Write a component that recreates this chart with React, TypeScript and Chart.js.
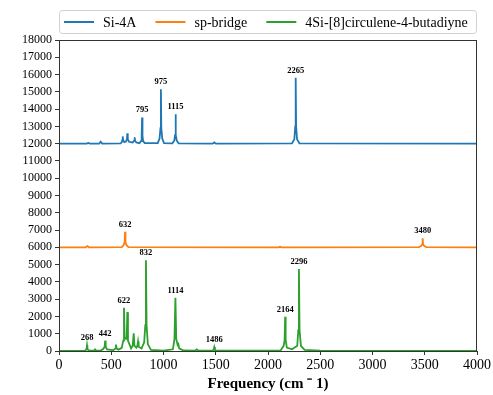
import React, { useEffect, useRef } from 'react';
import { Chart, registerables } from 'chart.js';

Chart.register(...registerables);

// ---- data ----
const seriesNames = ['Si-4A', 'sp-bridge', '4Si-[8]circulene-4-butadiyne'];
const seriesColors = ['#1f77b4', '#ff7f0e', '#2ca02c'];
const seriesOffsets = [12000, 6000, 0];

const freqSi = [0, 265, 280, 295, 385, 399, 413, 590, 600, 606, 610, 614, 625, 640, 650, 654, 658, 670, 705, 720, 724, 728, 740, 770, 785, 791, 795, 799, 805, 820, 945, 962, 971, 975, 979, 988, 1005, 1085, 1103, 1111, 1115, 1119, 1127, 1145, 1470, 1486, 1502, 2230, 2252, 2261, 2265, 2269, 2278, 2300, 4000];
const intSi = [0, 0, 40, 0, 0, 110, 0, 20, 80, 200, 420, 200, 90, 120, 260, 600, 260, 110, 70, 170, 370, 170, 70, 30, 150, 450, 1520, 450, 150, 30, 30, 300, 900, 3150, 900, 300, 30, 20, 170, 500, 1700, 500, 170, 20, 0, 70, 0, 20, 250, 1000, 3820, 1000, 250, 20, 0];

const freqSp = [0, 255, 271, 287, 600, 618, 628, 632, 636, 646, 665, 2100, 2115, 2130, 3445, 3466, 3476, 3480, 3484, 3494, 3515, 4000];
const intSp = [0, 0, 70, 0, 10, 120, 300, 900, 300, 120, 10, 0, 30, 0, 10, 80, 180, 520, 180, 80, 10, 0];

const freqCirc = [0, 240, 258, 264, 268, 272, 280, 300, 335, 345, 355, 400, 425, 437, 442, 447, 460, 520, 538, 545, 552, 570, 600, 615, 622, 628, 640, 648, 654, 660, 690, 705, 715, 722, 740, 750, 756, 762, 790, 815, 826, 832, 838, 850, 880, 1000, 1090, 1105, 1114, 1122, 1135, 1142, 1150, 1190, 1300, 1318, 1335, 1470, 1480, 1486, 1492, 1505, 2120, 2150, 2159, 2164, 2169, 2180, 2230, 2280, 2290, 2296, 2302, 2315, 2350, 2500, 4000];
const intCirc = [0, 0, 60, 140, 330, 140, 50, 20, 20, 90, 20, 30, 130, 250, 600, 250, 90, 50, 140, 370, 140, 80, 180, 600, 2500, 800, 700, 700, 2250, 600, 150, 300, 1030, 300, 200, 300, 550, 250, 150, 500, 1500, 5250, 1500, 400, 60, 20, 100, 700, 3080, 700, 350, 400, 150, 30, 20, 90, 20, 20, 80, 230, 80, 20, 30, 300, 650, 1980, 650, 200, 100, 300, 1200, 4750, 1200, 300, 60, 20, 0];

// peak labels
const peakSiFreq = [795, 975, 1115, 2265];
const peakSiInt = [1520, 3150, 1700, 3820];
const peakSpFreq = [632, 3480];
const peakSpInt = [900, 520];
const peakCircFreq = [268, 442, 622, 832, 1114, 1486, 2164, 2296];
const peakCircInt = [330, 600, 2500, 5250, 3080, 230, 1980, 4750];

// axis ticks
const xMin = 0;
const xMax = 4000;
const xStep = 500;
const yMin = 0;
const yMax = 18000;
const yStep = 1000;
const xTitle = 'Frequency (cm \u207B 1)';

const SERIF = "'Liberation Serif', 'Times New Roman', serif";

const freqs = [freqSi, freqSp, freqCirc];
const ints = [intSi, intSp, intCirc];
const peakFreqs = [peakSiFreq, peakSpFreq, peakCircFreq];
const peakInts = [peakSiInt, peakSpInt, peakCircInt];

const framePlugin = {
  id: 'frame',
  afterDraw(chart: any) {
    const { ctx, chartArea } = chart;
    ctx.save();
    ctx.strokeStyle = '#333';
    ctx.lineWidth = 1;
    ctx.strokeRect(chartArea.left + 0.5, chartArea.top + 0.5, chartArea.right - chartArea.left - 1, chartArea.bottom - chartArea.top);
    ctx.restore();
  },
};

const peakLabelPlugin = {
  id: 'peakLabels',
  afterDatasetsDraw(chart: any) {
    const { ctx, scales } = chart;
    ctx.save();
    ctx.font = `bold 8.5px ${SERIF}`;
    ctx.fillStyle = '#000';
    ctx.textAlign = 'center';
    ctx.textBaseline = 'bottom';
    peakFreqs.forEach((fs, s) => {
      fs.forEach((f, i) => {
        const px = scales.x.getPixelForValue(f);
        const py = scales.y.getPixelForValue(peakInts[s][i] + seriesOffsets[s]);
        ctx.fillText(String(f), px, py - 3);
      });
    });
    ctx.restore();
  },
};

const legendPlugin = {
  id: 'boxLegend',
  afterDraw(chart: any) {
    const { ctx, chartArea } = chart;
    const left = chartArea.left;
    const right = chartArea.right;
    const top = 10;
    const bottom = 33;
    ctx.save();
    ctx.strokeStyle = '#d0d0d0';
    ctx.lineWidth = 1;
    ctx.beginPath();
    (ctx as any).roundRect(left + 0.5, top + 0.5, right - left - 1, bottom - top, 3);
    ctx.stroke();
    ctx.font = `14px ${SERIF}`;
    ctx.textBaseline = 'middle';
    ctx.textAlign = 'left';
    const cy = (top + bottom) / 2 + 0.5;
    let x = left + 5;
    seriesNames.forEach((name, i) => {
      ctx.strokeStyle = seriesColors[i];
      ctx.lineWidth = 2;
      ctx.beginPath();
      ctx.moveTo(x, cy);
      ctx.lineTo(x + 30, cy);
      ctx.stroke();
      x += 39;
      ctx.fillStyle = '#000';
      ctx.fillText(name, x, cy + 1);
      x += ctx.measureText(name).width + 19;
    });
    ctx.restore();
  },
};

export default function App() {
  const ref = useRef<HTMLCanvasElement | null>(null);

  useEffect(() => {
    document.body.style.margin = '0';
    const canvas = ref.current;
    if (!canvas) return;
    const datasets = seriesNames.map((name, s) => ({
      label: name,
      data: freqs[s].map((f, i) => ({ x: f, y: ints[s][i] + seriesOffsets[s] })),
      borderColor: seriesColors[s],
      backgroundColor: seriesColors[s],
      borderWidth: 1.8,
      pointRadius: 0,
      tension: 0,
      fill: false,
    }));
    const chart = new Chart(canvas, {
      type: 'line',
      data: { datasets },
      options: {
        animation: false,
        responsive: false,
        maintainAspectRatio: false,
        layout: { padding: { left: 0, right: 16, top: 40, bottom: 0 } },
        plugins: {
          legend: { display: false },
          tooltip: { enabled: false },
        },
        scales: {
          x: {
            type: 'linear',
            min: xMin,
            max: xMax,
            afterFit: (s: any) => { s.height = 44; },
            ticks: {
              stepSize: xStep,
              autoSkip: false,
              maxRotation: 0,
              padding: 2,
              color: '#000',
              font: { family: SERIF, size: 14 },
              callback: (v: any) => String(v),
            },
            grid: { display: true, drawOnChartArea: false, drawTicks: true, tickLength: 4, color: '#333' },
            border: { display: true, color: '#333', width: 1 },
            title: {
              display: true,
              text: xTitle,
              color: '#000',
              font: { family: SERIF, size: 15, weight: 'bold' },
              padding: { top: 0, bottom: 2 },
            },
          },
          y: {
            type: 'linear',
            min: yMin,
            max: yMax,
            afterFit: (s: any) => { s.width = 59; },
            ticks: {
              stepSize: yStep,
              autoSkip: false,
              padding: 3,
              color: '#000',
              font: { family: SERIF, size: 12 },
              callback: (v: any) => String(v),
            },
            grid: { display: true, drawOnChartArea: false, drawTicks: true, tickLength: 4, color: '#333' },
            border: { display: true, color: '#333', width: 1 },
          },
        },
      },
      plugins: [framePlugin, peakLabelPlugin, legendPlugin],
    } as any);
    return () => chart.destroy();
  }, []);

  return (
    <div style={{ width: 493, height: 395 }}>
      <canvas ref={ref} width={493} height={395} style={{ display: 'block' }} />
    </div>
  );
}
